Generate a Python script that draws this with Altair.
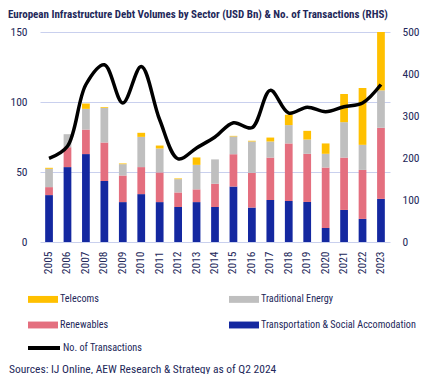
import altair as alt
import pandas as pd

years = [str(y) for y in range(2005, 2024)]
transport = [33.5, 53.5, 62.8, 43.5, 28.5, 34.2, 28.5, 25.0, 28.5, 25.0, 39.6, 24.6, 30.0, 29.3, 28.6, 10.0, 22.9, 16.5, 30.8]
renewables = [5.7, 14.2, 17.5, 27.6, 19.0, 19.3, 21.2, 10.4, 9.1, 16.6, 23.1, 24.8, 30.3, 41.1, 34.4, 43.2, 37.4, 35.0, 50.8]
trad_energy = [13.1, 9.3, 14.8, 24.7, 8.1, 21.6, 17.1, 9.5, 17.5, 17.4, 12.7, 22.4, 11.5, 13.1, 10.2, 9.8, 25.3, 17.9, 26.7]
telecoms = [0.7, 0.0, 3.8, 0.5, 0.5, 2.9, 2.1, 0.5, 5.3, 0.0, 0.4, 0.5, 2.8, 7.4, 6.2, 7.4, 20.1, 40.6, 41.7]
transactions = [199, 228, 375, 422, 331, 418, 291, 198, 224, 250, 284, 272, 361, 307, 321, 310, 322, 331, 375]

# legend is filled column by column
sectors = ["Telecoms", "Renewables", "Traditional Energy", "Transportation & Social Accomodation"]
sector_colors = ["#FFC000", "#E46F7F", "#BFBFBF", "#1428A0"]
stack_rank = {"Transportation & Social Accomodation": 0, "Renewables": 1, "Traditional Energy": 2, "Telecoms": 3}

title_text = "European Infrastructure Debt Volumes by Sector (USD Bn) & No. of Transactions (RHS)"
source_text = "Sources: IJ Online, AEW Research & Strategy as of Q2 2024"

rows = []
for i, y in enumerate(years):
    for name, vals in [("Transportation & Social Accomodation", transport), ("Renewables", renewables),
                       ("Traditional Energy", trad_energy), ("Telecoms", telecoms)]:
        rows.append({"year": y, "sector": name, "value": vals[i], "rank": stack_rank[name]})
bars_df = pd.DataFrame(rows)
line_df = pd.DataFrame({"year": years, "n": transactions, "series": "No. of Transactions"})

FONT = "Roboto Condensed"
TXT = "#23285a"
GRID = "#C9D0EE"

xenc = alt.X("year:N", title=None, sort=years,
             scale=alt.Scale(paddingInner=0.58, paddingOuter=0.28),
             axis=alt.Axis(labelAngle=-90, labelPadding=9, ticks=False, domain=False,
                           labelFontSize=11.5, labelColor=TXT, labelFont=FONT))

bars = alt.Chart(bars_df).mark_bar().encode(
    x=xenc,
    y=alt.Y("value:Q", title=None, stack="zero",
            scale=alt.Scale(domain=[0, 150], nice=False),
            axis=alt.Axis(values=[0, 50, 100, 150], grid=True, gridColor=GRID, gridWidth=1,
                          domain=False, ticks=False, labelPadding=13, labelFontSize=11.5,
                          labelColor=TXT, labelFont=FONT)),
    color=alt.Color("sector:N", scale=alt.Scale(domain=sectors, range=sector_colors),
                    legend=alt.Legend(title=None, orient="none", legendX=-12, legendY=252,
                                      columns=2, columnPadding=120, rowPadding=5,
                                      symbolType="M-1,-0.23H1V0.23H-1Z", symbolSize=900,
                                      symbolStrokeWidth=0, symbolOpacity=1, labelOffset=2,
                                      labelFontSize=10.2, labelLimit=300, labelColor=TXT,
                                      labelFont=FONT, padding=0)),
    order=alt.Order("rank:Q", sort="ascending"),
)

line = alt.Chart(line_df).mark_line(interpolate="catmull-rom", strokeWidth=3.5, color="black").encode(
    x=alt.X("year:N", sort=years),
    y=alt.Y("n:Q", title=None, scale=alt.Scale(domain=[0, 500], nice=False),
            axis=alt.Axis(orient="right", values=[0, 100, 200, 300, 400, 500], grid=False,
                          domain=False, ticks=False, labelPadding=12, labelFontSize=11.5,
                          labelColor=TXT, labelFont=FONT)),
    color=alt.Color("series:N", scale=alt.Scale(range=["black"]),
                    legend=alt.Legend(title=None, orient="none", legendX=-14, legendY=298,
                                      symbolType="stroke", symbolSize=1024, symbolStrokeWidth=4,
                                      labelOffset=1, labelFontSize=10.2, labelColor=TXT,
                                      labelFont=FONT, padding=0)),
)

source = alt.Chart(pd.DataFrame({"t": [source_text]})).mark_text(
    align="left", baseline="alphabetic", font=FONT, fontSize=11.5, color=TXT
).encode(text="t:N", x=alt.value(-31), y=alt.value(340.5))

chart = alt.layer(bars, line, source).resolve_scale(
    y="independent", color="independent"
).resolve_legend(color="independent").properties(
    width=350, height=210,
    title=alt.TitleParams(title_text, anchor="start", frame="group", dx=-32, offset=6.5, fontSize=11,
                          font=FONT, fontWeight="bold", color=TXT),
    autosize=alt.AutoSizeParams(type="none"),
    padding={"left": 32, "top": 24, "right": 33, "bottom": 132},
).configure_view(stroke=None)

chart.save("out.html", embed_options={"renderer": "svg", "actions": False})
